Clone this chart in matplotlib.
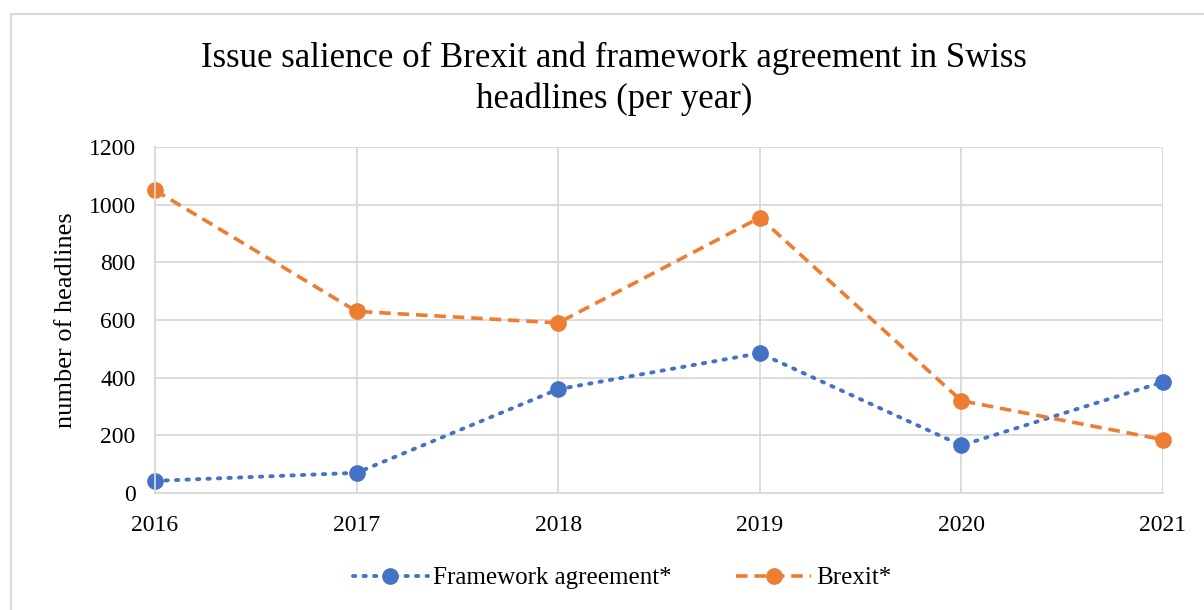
import numpy as np
import matplotlib.pyplot as plt
from matplotlib.patches import Rectangle

plt.rcParams['font.family'] = ['Liberation Serif', 'DejaVu Serif']

years = ['2016', '2017', '2018', '2019', '2020', '2021']
framework = [42, 70, 360, 485, 165, 385]
brexit = [1050, 630, 590, 955, 320, 185]

blue = '#4472C4'
orange = '#ED7D31'

fig = plt.figure(figsize=(12.04, 6.10), dpi=100)
ax = fig.add_axes([155 / 1204, 1 - 493 / 610, (1163 - 155) / 1204, (493 - 147) / 610])

# outer chart border (Excel style)
fig.patches.append(Rectangle((11 / 1204, -0.01), 1.0, 1 - 14 / 610 + 0.01,
                             transform=fig.transFigure, fill=False,
                             edgecolor='#D9D9D9', linewidth=1.5))

x = np.arange(len(years))
ax.plot(x, framework, linestyle=(0, (0.6, 2.1)), dash_capstyle='round',
        color=blue, linewidth=2.8, marker='o', markersize=11,
        label='Framework agreement*')
ax.plot(x, brexit, linestyle=(0, (3.2, 1.9)), color=orange, linewidth=2.6,
        marker='o', markersize=11, label='Brexit*')

ax.set_xlim(0, len(years) - 1)
ax.set_ylim(0, 1200)
ax.set_xticks(x)
ax.set_xticklabels(years)
ax.set_yticks(np.arange(0, 1201, 200))
ax.tick_params(length=0, labelsize=17)
ax.tick_params(axis='x', pad=16)
ax.tick_params(axis='y', pad=14)
ax.grid(color='#D9D9D9', linewidth=1.3)
ax.set_axisbelow(True)
for s in ['top', 'right']:
    ax.spines[s].set_visible(False)
for s in ['left', 'bottom']:
    ax.spines[s].set_color('#D9D9D9')
    ax.spines[s].set_linewidth(1.3)
for l in ax.get_lines():
    l.set_clip_on(False)

ax.set_ylabel('number of headlines', fontsize=19, labelpad=8)
fig.text(614 / 1204, 1 - 79 / 610,
         'Issue salience of Brexit and framework agreement in Swiss\nheadlines (per year)',
         ha='center', va='center', fontsize=25, linespacing=1.28)

fig.legend(loc='center', bbox_to_anchor=(622 / 1204, 1 - 578 / 610), ncol=2,
           frameon=False, fontsize=18, handlelength=3.0, columnspacing=2.6,
           handletextpad=0.2)

fig.savefig('out.png', dpi=100)
